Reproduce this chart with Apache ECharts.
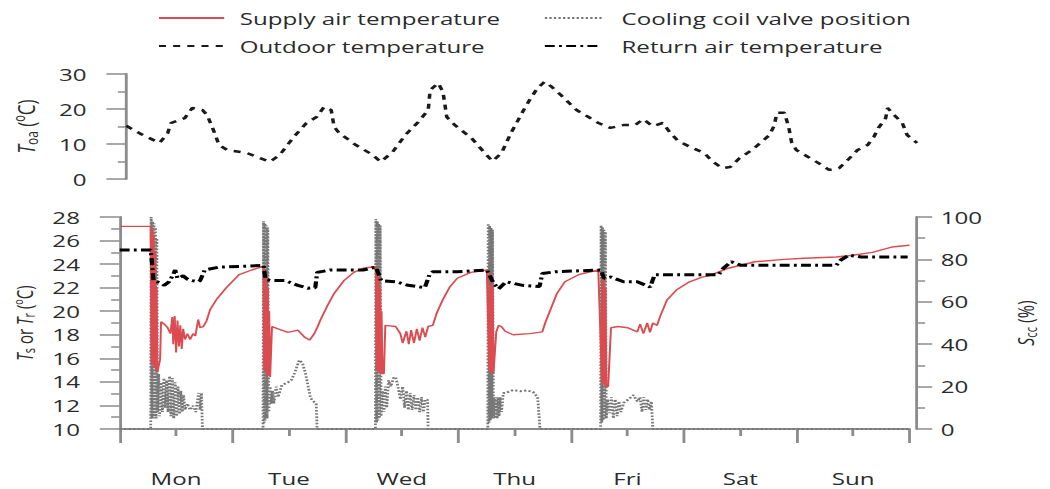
<!DOCTYPE html>
<html>
<head>
<meta charset="utf-8">
<script src="https://cdn.jsdelivr.net/npm/echarts@6/dist/echarts.min.js"></script>
<style>
  html, body { margin: 0; padding: 0; background: #fff; overflow: hidden; }
  #wrap { width: 1050px; height: 489px; overflow: hidden; }
  /* the figure is laid out on a narrower canvas and widened to the page */
  #chart { width: 740px; height: 489px; transform: scaleX(1.418919); transform-origin: 0 0; }
</style>
</head>
<body>
<div id="wrap"><div id="chart"></div></div>
<script>
// Time axis is in hours from Monday 00:00 (0 .. 168).
const days = ['Mon', 'Tue', 'Wed', 'Thu', 'Fri', 'Sat', 'Sun'];

// Outdoor air temperature, °C
const outdoorTemp = [
  [0,15.2],[3,12.9],[7,10.3],[8.7,13.1],[9.4,16],[12.3,17.4],[13.9,20.3],[16,19.7],[17,18.3],[18.5,13.4],
  [19.5,9.7],[21.2,8.3],[25.4,7.4],[30.2,4.9],[32.3,6.9],[35.2,12],[37.9,16],[40,17.7],[41.6,20.6],[43.1,19.7],
  [43.7,14.9],[44.8,13.1],[48.3,9.7],[51.8,6.9],[53.5,4.9],[56,7.7],[58.7,12.6],[61.4,16.3],[63.5,19.7],[63.9,25.4],
  [65.6,27.4],[66.6,24.9],[67.4,17.7],[69.1,15.4],[72.6,11.7],[75.4,7.4],[77,5.1],[78.9,7.4],[81,13.4],[83.7,20],
  [85,23],[86.5,26],[88,27.8],[89.5,26.3],[91.4,24],[94.7,19.7],[97.2,17.7],[99.3,16],[101.8,14.6],[104.5,15.4],
  [107,15.4],[108.7,17.1],[110.7,15.1],[112.8,16],[114.3,13.4],[116,10.9],[119,8.9],[121.6,7.4],[123.2,5.1],[125.3,3.1],
  [127,3.4],[129,6],[131.6,8.3],[133.6,10.6],[135.3,12.6],[136.3,15.4],[136.8,18.9],[138.4,18.9],[139.3,14.9],[139.9,10.6],
  [140.9,8.3],[143.4,6.3],[145.5,4.6],[147.8,2.6],[149.9,3.1],[151.7,5.4],[153.8,8.3],[155.9,9.7],[157.2,12],[158.2,14.6],
  [159.7,17.4],[160.1,20.3],[161.7,18],[163.2,16],[164.2,12.6],[166.3,10.3]
];

// Supply air temperature, °C
const supplyTemp = [
  [0,27.2],[6.6,27.2],[6.8,15.6],[6.95,27],[7.1,15.4],[7.25,26.5],[7.4,15.2],[7.55,25],[7.7,15],[7.85,22],[8.0,14.8],[8.2,14.8],
  [8.6,15.9],[8.8,19.1],[9.5,18.9],[10.2,18.6],[10.8,18.1],[11.2,19.5],[11.4,17.2],[11.7,19.6],[12.0,16.5],[12.3,19.2],
  [12.6,17],[12.9,18.8],[13.2,16.8],[13.5,18.5],[13.9,17.6],[14.4,18.1],[15,17.6],[15.6,18.1],[16.1,17.9],[16.7,19.3],
  [17.1,18.6],[17.8,18.7],[18.5,19.2],[19.2,20.1],[20.6,21],[22.7,22],[25.4,23.1],[28.1,23.5],[30.6,23.8],
  [30.75,15],[30.9,23.5],[31.05,14.8],[31.2,23],[31.35,14.6],[31.5,22],[31.65,14.5],[31.8,20],[32.0,14.4],[32.2,14.4],
  [32.4,18.7],[33.7,18.5],[35.8,18.2],[37.9,18.4],[39.3,17.8],[40.4,17.55],[41.4,18.1],[42,18.6],[42.7,19.25],[44.1,20.4],
  [45.6,21.5],[47.7,22.6],[49.8,23.3],[51.8,23.65],[54.5,23.8],
  [54.65,15],[54.8,23.5],[54.95,14.9],[55.1,23],[55.25,14.8],[55.4,22],[55.55,14.7],[55.7,20],[55.9,14.7],[56.2,14.7],
  [56.5,18.8],[58.7,18.7],[59.7,18.1],[60.2,17.3],[61,18.3],[61.5,17.2],[62,18.4],[62.6,17.3],[63.2,18.5],[63.8,17.5],
  [64.4,18.6],[65,17.8],[65.6,18.7],[66.6,18.8],[67.4,19.8],[68.7,20.95],[70.2,22.05],[71.8,22.8],[74.7,23.3],[78.1,23.5],
  [78.6,15],[78.75,23.3],[78.9,14.9],[79.05,23],[79.2,14.8],[79.35,22],[79.5,14.7],[79.7,14.7],
  [80.1,18.25],[80.6,18.8],[81.2,18.7],[82,18.3],[83.7,18],[87.2,18.1],[89.9,18.25],[90.5,19],[91.6,20.1],[93,21.5],
  [94.7,22.5],[97.6,23.1],[101.8,23.5],
  [102.6,14],[102.75,23.3],[102.9,13.8],[103.05,23],[103.2,13.7],[103.35,22],[103.5,13.6],[103.9,13.6],
  [104.5,18.6],[106,18.7],[108,18.6],[110.1,18.25],[110.7,18.9],[111.4,18.1],[112.2,19],[112.8,18.2],[113.4,19],[114.3,18.8],
  [114.9,19.5],[116.4,20.95],[118.4,21.8],[121.2,22.5],[123.9,22.9],[125.3,23],[129.5,23.65],[135.1,24.2],[141.3,24.4],
  [145.5,24.5],[152.4,24.6],[155.9,24.75],[160.1,25.0],[164.2,25.45],[168,25.6]
];

// Cooling coil valve position, %
const valvePos = [
  [0,0],[6.6,0],[6.7,100],[6.85,5],[7.0,98],[7.15,5],[7.3,97],[7.45,5],[7.6,95],[7.75,5],[7.9,90],[8.05,8],
  [8.3,26],[8.5,6],[8.8,22],[9.1,8],[9.4,24],[9.7,10],[10.0,23],[10.3,8],[10.6,25],[10.9,6],[11.2,24],[11.5,5],
  [11.8,22],[12.1,6],[12.4,20],[12.7,7],[13.0,18],[13.3,8],[13.6,16],[13.9,9],[14.4,12],[15,9],[15.6,11],[16.2,8],
  [16.8,17],[17.1,9],[17.4,17],[17.6,0],
  [30.5,0],[30.6,98],[30.75,3],[30.9,97],[31.05,4],[31.2,96],[31.35,5],[31.5,95],[31.7,8],[32.0,20],[32.2,12],[32.5,18],
  [32.8,12],[33.3,20],[33.7,15],[34.5,20.7],[35.8,22],[36.5,23],[37.2,26.4],[38.2,32.5],[38.9,31],[39.5,26.4],[40.1,20],
  [40.6,14.6],[41.4,12.7],[41.8,12],[42,0],
  [54.4,0],[54.5,99],[54.65,3],[54.8,98],[54.95,4],[55.1,97],[55.25,5],[55.4,96],[55.6,6],[55.9,18],[56.2,8],[56.5,20],
  [56.8,10],[57.2,23],[57.7,20],[58.2,24],[58.7,24.5],[59.2,20],[59.7,14],[60.2,20],[60.6,10],[61,18],[61.4,9],[61.8,17],
  [62.2,9],[62.6,16],[63,9],[63.4,15],[63.8,8],[64.2,15],[64.6,8],[65,14],[65.5,13.7],[65.6,0],
  [78.3,0],[78.4,97],[78.55,3],[78.7,96],[78.85,4],[79.0,95],[79.15,5],[79.3,94],[79.5,5],[79.7,15],[79.9,5],[80.1,15],
  [80.3,5],[80.5,15],[80.7,6],[80.9,15],[81.2,8],[81.6,17],[82,17],[83.7,18.4],[85.2,17.8],[86.5,18.2],[87.9,17.5],
  [88.9,15],[89.4,0],
  [102.3,0],[102.4,96],[102.55,3],[102.7,95],[102.85,4],[103.0,94],[103.15,5],[103.3,93],[103.5,5],[103.8,14],[104.2,7.5],
  [104.6,15],[105,5],[105.4,14],[105.8,6],[106.2,13],[106.6,8],[107.2,12.3],[108.2,14],[109.3,16],[110.1,13],[110.7,15],
  [111.1,8],[111.5,15],[111.9,9],[112.3,14],[112.7,9],[113.1,13],[113.4,0],[168,0]
];

// Return air temperature, °C
const returnTemp = [
  [0,25.2],[6.6,25.2],[6.9,24.0],[7.2,22.6],[8.7,22.4],[9.5,22.2],[10.5,22.5],[11.4,23.1],[11.8,23.5],[12.3,22.8],
  [13.5,23.0],[14.5,22.7],[15.5,22.6],[16.7,22.5],[17.1,22.6],[18.1,23.5],[21.2,23.75],[25.4,23.8],[30.6,23.9],
  [31.0,22.7],[32.3,22.6],[35.2,22.6],[37.9,22.2],[40,21.95],[41.6,22.0],[42,23.3],[44.8,23.5],[51.8,23.5],[54.5,23.75],
  [55.6,22.6],[58.7,22.5],[61.4,22.2],[64.9,22.0],[65.9,23.1],[66.6,23.35],[71.8,23.35],[78.1,23.5],
  [79.5,22.4],[80.6,21.9],[82.2,22.5],[85.7,22.2],[89.3,22.1],[89.9,23.2],[92.6,23.35],[102.4,23.5],
  [103,22.8],[104.5,22.9],[107.2,22.5],[110.1,22.5],[112.8,22.05],[113.8,23.1],[116.9,23.1],[127.4,23.1],[128.4,23.65],
  [130.1,24.2],[132.2,23.9],[145.7,23.9],[152.4,23.9],[153.4,24.35],[155.1,24.75],[157.8,24.6],[167.6,24.6]
];

const FONT = 'Open Sans';
const AXIS_GREY = '#8c8c8c';
const TEXT = '#2b2b2b';

// rich styles for axis titles with italic symbols, subscripts and a raised "o"
function nameRich(size) {
  return {
    it: { fontStyle: 'italic', fontSize: size, fontFamily: FONT, color: TEXT },
    sb: { fontSize: Math.round(size * 0.7), fontFamily: FONT, color: TEXT, verticalAlign: 'bottom', lineHeight: size + 3 },
    sp: { fontSize: Math.round(size * 0.62), fontFamily: FONT, color: TEXT, verticalAlign: 'top', lineHeight: size - 3 }
  };
}

function yAxisBase(extra, nameSize) {
  return Object.assign({
    type: 'value',
    splitLine: { show: false },
    axisLine: { show: true, lineStyle: { color: AXIS_GREY, width: 2 } },
    axisTick: { show: true, length: 14, lineStyle: { color: AXIS_GREY, width: 1.5 } },
    minorTick: { show: true, splitNumber: 2, length: 6, lineStyle: { color: AXIS_GREY, width: 1.5 } },
    axisLabel: { fontFamily: FONT, fontSize: 17, color: TEXT, margin: 20 },
    nameLocation: 'middle',
    nameRotate: 90,
    nameTextStyle: { fontFamily: FONT, fontSize: nameSize, color: TEXT, rich: nameRich(nameSize) }
  }, extra);
}

const chart = echarts.init(document.getElementById('chart'), null, { renderer: 'svg' });

// legend keys show the series line only, without a marker
const legendBase = {
  orient: 'vertical', top: 8, padding: 0, itemGap: 8, itemHeight: 14,
  itemStyle: { opacity: 0 }
};

chart.setOption({
  animation: false,
  backgroundColor: '#ffffff',
  textStyle: { fontFamily: FONT },
  legend: [
    Object.assign({}, legendBase, {
      left: 111, itemWidth: 46,
      textStyle: { fontFamily: FONT, fontSize: 17, color: TEXT, lineHeight: 20, padding: [0, 0, 0, 6] },
      data: ['Supply air temperature', 'Outdoor temperature']
    }),
    Object.assign({}, legendBase, {
      left: 383, itemWidth: 40,
      textStyle: { fontFamily: FONT, fontSize: 17, color: TEXT, lineHeight: 20, padding: [0, 0, 0, 9] },
      data: ['Cooling coil valve position', 'Return air temperature']
    })
  ],
  grid: [
    { left: 83, right: 88, top: 74, height: 105 },
    { left: 83, right: 88, top: 217, height: 212 }
  ],
  xAxis: [
    { type: 'value', gridIndex: 0, min: 0, max: 168, show: false },
    {
      type: 'value', gridIndex: 1, min: 0, max: 168, interval: 24, position: 'bottom', offset: 10,
      splitLine: { show: false },
      axisLine: { show: true, lineStyle: { color: AXIS_GREY, width: 2 } },
      axisTick: { show: true, length: 14, lineStyle: { color: AXIS_GREY, width: 2 } },
      minorTick: { show: true, splitNumber: 2, length: 7, lineStyle: { color: AXIS_GREY, width: 2 } },
      axisLabel: { show: false }
    },
    {
      type: 'category', gridIndex: 1, data: days, boundaryGap: true, position: 'bottom', offset: 10,
      axisLine: { show: false }, axisTick: { show: false }, splitLine: { show: false },
      axisLabel: { fontFamily: FONT, fontSize: 17, lineHeight: 17, color: TEXT, margin: 31 }
    }
  ],
  yAxis: [
    yAxisBase({
      gridIndex: 0, min: 0, max: 30, interval: 10, offset: 8, position: 'left',
      name: '{it|T}{sb|oa} ({sp|o}C)', nameGap: 53
    }, 17),
    yAxisBase({
      gridIndex: 1, min: 10, max: 28, interval: 2, offset: 8, position: 'left',
      name: '{it|T}{sb|s} or {it|T}{sb|r} ({sp|o}C)', nameGap: 49
    }, 15),
    yAxisBase({
      gridIndex: 1, min: 0, max: 100, interval: 20, offset: 5, position: 'right',
      axisTick: { show: true, length: 11, lineStyle: { color: AXIS_GREY, width: 1.5 } },
      minorTick: { show: true, splitNumber: 2, length: 6, lineStyle: { color: AXIS_GREY, width: 1.5 } },
      axisLabel: { fontFamily: FONT, fontSize: 17, color: TEXT, margin: 17 },
      name: '{it|S}{sb|cc} (%)', nameGap: 67
    }, 16)
  ],
  series: [
    {
      name: 'Supply air temperature', type: 'line', xAxisIndex: 1, yAxisIndex: 1,
      data: supplyTemp, showSymbol: false, symbol: 'none', z: 3,
      lineStyle: { color: '#dc4b50', width: 1.4 }, itemStyle: { color: '#dc4b50' }
    },
    {
      name: 'Cooling coil valve position', type: 'line', xAxisIndex: 1, yAxisIndex: 2,
      data: valvePos, showSymbol: false, symbol: 'none', z: 2,
      lineStyle: { color: '#777777', width: 2, type: [1.6, 1.6] }, itemStyle: { color: '#777777' }
    },
    {
      name: 'Outdoor temperature', type: 'line', xAxisIndex: 0, yAxisIndex: 0,
      data: outdoorTemp, showSymbol: false, symbol: 'none',
      lineStyle: { color: '#1a1a1a', width: 2.5, type: [5, 5] }, itemStyle: { color: '#1a1a1a' }
    },
    {
      name: 'Return air temperature', type: 'line', xAxisIndex: 1, yAxisIndex: 1,
      data: returnTemp, showSymbol: false, symbol: 'none', z: 4,
      lineStyle: { color: '#000000', width: 3, type: [7, 3, 2, 3] }, itemStyle: { color: '#000000' }
    }
  ]
});
</script>
</body>
</html>
